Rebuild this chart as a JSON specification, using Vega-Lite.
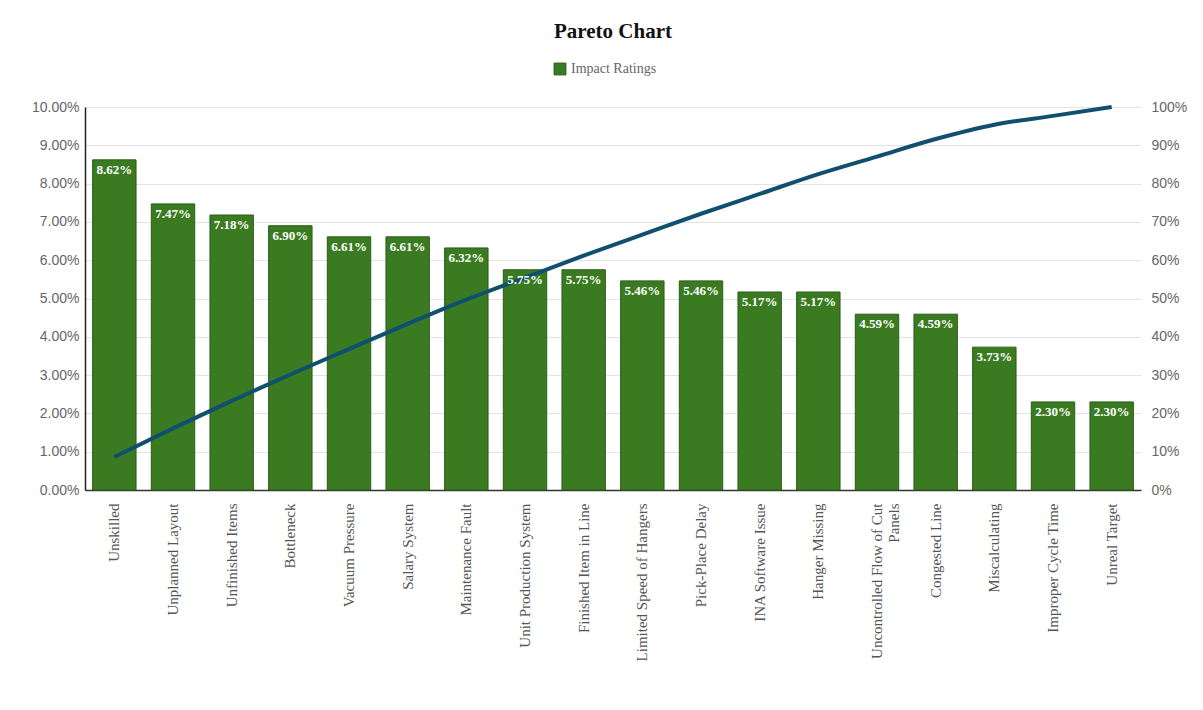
{
  "$schema": "https://vega.github.io/schema/vega-lite/v6.json",
  "width": 1056,
  "height": 383,
  "autosize": {"type": "none"},
  "padding": {"left": 85, "top": 107, "right": 62, "bottom": 220},
  "background": "white",
  "title": {
    "text": "Pareto Chart",
    "font": "Liberation Serif",
    "fontSize": 21,
    "fontWeight": "bold",
    "color": "#111111",
    "anchor": "middle",
    "offset": 20
  },
  "config": {
    "view": {"stroke": null}
  },
  "data": {
    "values": [
      {"cause": "Unskilled", "rating": 0.0862, "cum": 0.0862},
      {"cause": "Unplanned Layout", "rating": 0.0747, "cum": 0.1609},
      {"cause": "Unfinished Items", "rating": 0.0718, "cum": 0.2327},
      {"cause": "Bottleneck", "rating": 0.069, "cum": 0.3017},
      {"cause": "Vacuum Pressure", "rating": 0.0661, "cum": 0.3678},
      {"cause": "Salary System", "rating": 0.0661, "cum": 0.4339},
      {"cause": "Maintenance Fault", "rating": 0.0632, "cum": 0.4971},
      {"cause": "Unit Production System", "rating": 0.0575, "cum": 0.5546},
      {"cause": "Finished Item in Line", "rating": 0.0575, "cum": 0.6121},
      {"cause": "Limited Speed of Hangers", "rating": 0.0546, "cum": 0.6667},
      {"cause": "Pick-Place Delay", "rating": 0.0546, "cum": 0.7213},
      {"cause": "INA Software Issue", "rating": 0.0517, "cum": 0.773},
      {"cause": "Hanger Missing", "rating": 0.0517, "cum": 0.8247},
      {"cause": "Uncontrolled Flow of Cut Panels", "rating": 0.0459, "cum": 0.8706},
      {"cause": "Congested Line", "rating": 0.0459, "cum": 0.9165},
      {"cause": "Miscalculating", "rating": 0.0373, "cum": 0.9538},
      {"cause": "Improper Cycle Time", "rating": 0.023, "cum": 0.9768},
      {"cause": "Unreal Target", "rating": 0.023, "cum": 1.0}
    ]
  },
  "encoding": {
    "x": {
      "field": "cause",
      "type": "nominal",
      "sort": null,
      "scale": {"paddingInner": 0.26, "paddingOuter": 0.13},
      "axis": {
        "title": null,
        "labelAngle": -90,
        "labelAlign": "right",
        "labelBaseline": "middle",
        "labelFont": "Liberation Serif",
        "labelFontSize": 15,
        "labelColor": "#555555",
        "labelPadding": 13,
        "labelLimit": 300,
        "labelOverlap": false,
        "ticks": false,
        "domainColor": "#333333",
        "domainWidth": 1.5,
        "labelExpr": "datum.value == 'Uncontrolled Flow of Cut Panels' ? ['Uncontrolled Flow of Cut', 'Panels'] : datum.value"
      }
    }
  },
  "layer": [
    {
      "mark": {"type": "bar", "stroke": "#2b5c19", "strokeWidth": 1},
      "encoding": {
        "y": {
          "field": "rating",
          "type": "quantitative",
          "scale": {"domain": [0, 0.1], "nice": false},
          "axis": {
            "title": null,
            "format": ".2%",
            "values": [0, 0.01, 0.02, 0.03, 0.04, 0.05, 0.06, 0.07, 0.08, 0.09, 0.1],
            "labelFont": "Liberation Sans",
            "labelFontSize": 14,
            "labelColor": "#666666",
            "labelPadding": 6,
            "labelOverlap": false,
            "ticks": false,
            "domainColor": "#222222",
            "domainWidth": 1.5,
            "gridColor": "#e3e3e3"
          }
        },
        "color": {
          "datum": "Impact Ratings",
          "type": "nominal",
          "scale": {"range": ["#3a7b22"]},
          "legend": {
            "title": null,
            "orient": "none",
            "legendX": 468,
            "legendY": -45,
            "direction": "horizontal",
            "symbolType": "square",
            "symbolSize": 140,
            "symbolStrokeColor": "#2b5c19",
            "symbolStrokeWidth": 1,
            "labelFont": "Liberation Serif",
            "labelFontSize": 14,
            "labelColor": "#666666"
          }
        }
      }
    },
    {
      "mark": {"type": "line", "color": "#114f6e", "strokeWidth": 4, "interpolate": "monotone"},
      "encoding": {
        "y": {
          "field": "cum",
          "type": "quantitative",
          "scale": {"domain": [0, 1], "nice": false},
          "axis": {
            "title": null,
            "orient": "right",
            "format": ".0%",
            "values": [0, 0.1, 0.2, 0.3, 0.4, 0.5, 0.6, 0.7, 0.8, 0.9, 1],
            "labelFont": "Liberation Sans",
            "labelFontSize": 14,
            "labelColor": "#666666",
            "labelPadding": 10,
            "labelOverlap": false,
            "ticks": false,
            "domain": false,
            "grid": false
          }
        }
      }
    },
    {
      "mark": {
        "type": "text",
        "baseline": "top",
        "dy": 4,
        "font": "Liberation Serif",
        "fontSize": 13,
        "fontWeight": "bold",
        "color": "#ffffff"
      },
      "encoding": {
        "y": {"field": "rating", "type": "quantitative", "scale": {"domain": [0, 0.1], "nice": false}, "axis": null},
        "text": {"field": "rating", "type": "quantitative", "format": ".2%"}
      }
    }
  ],
  "resolve": {"scale": {"y": "independent"}}
}
